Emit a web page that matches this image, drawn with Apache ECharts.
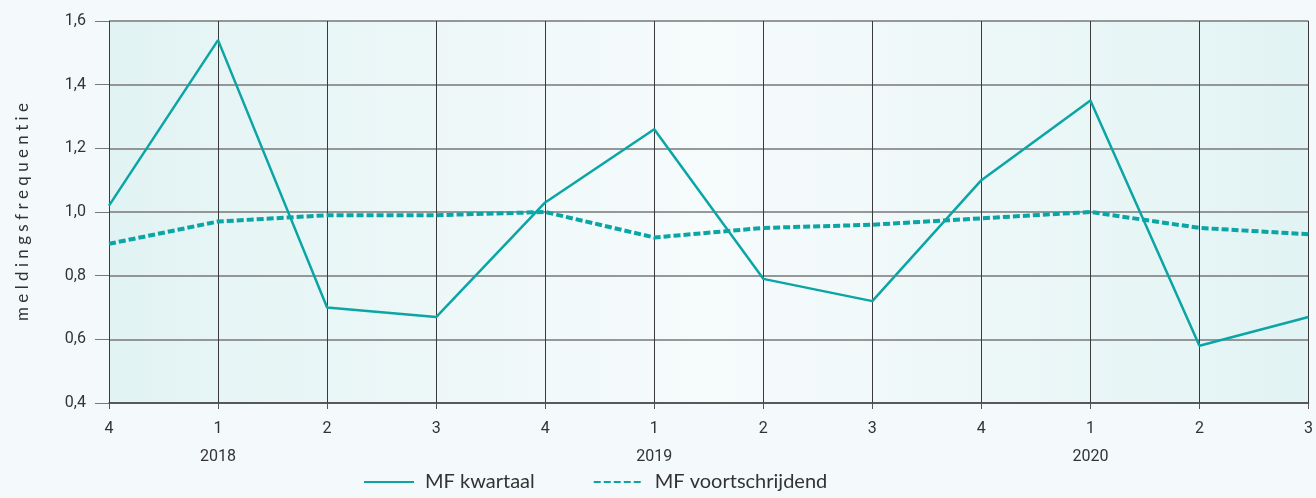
<!DOCTYPE html>
<html>
<head>
<meta charset="utf-8">
<script src="https://cdn.jsdelivr.net/npm/echarts@6/dist/echarts.min.js"></script>
<style>
  html, body { margin: 0; padding: 0; background: #f4fafb; }
  #chart { width: 1316px; height: 498px; }
</style>
</head>
<body>
<div id="chart"></div>
<script>
const quarters = ['4', '1', '2', '3', '4', '1', '2', '3', '4', '1', '2', '3']
const years = ['', '2018', '', '', '', '2019', '', '', '', '2020', '', '']
const mfKwartaal = [1.02, 1.54, 0.70, 0.67, 1.03, 1.26, 0.79, 0.72, 1.10, 1.35, 0.58, 0.67]
const mfVoortschrijdend = [0.90, 0.97, 0.99, 0.99, 1.00, 0.92, 0.95, 0.96, 0.98, 1.00, 0.95, 0.93]

const teal = '#0ba5a5'

const chart = echarts.init(document.getElementById('chart'))
chart.setOption({
    backgroundColor: '#f4fafb',
    grid: {
        left: 109, right: 5, top: 21, bottom: 95,
        show: true,
        borderWidth: 0,
        backgroundColor: new echarts.graphic.LinearGradient(0, 0, 1, 0, [
            { offset: 0, color: '#e2f3f3' },
            { offset: 0.5, color: '#f6fbfc' },
            { offset: 1, color: '#e2f3f3' }
        ])
    },
    legend: {
        bottom: 1,
        left: 358,
        itemWidth: 50,
        itemHeight: 10,
        itemGap: 58,
        itemStyle: { opacity: 0 },
        textStyle: { fontFamily: 'Lato', fontSize: 20, color: '#333', padding: [0, 0, 0, 6] },
        data: ['MF kwartaal', 'MF voortschrijdend']
    },
    xAxis: [{
        type: 'category',
        data: quarters,
        boundaryGap: false,
        axisLine: { lineStyle: { color: '#444', width: 1.5 } },
        axisTick: { length: 6, lineStyle: { color: '#555' } },
        axisLabel: { margin: 18, color: '#333', fontFamily: 'Roboto', fontSize: 16 },
        splitLine: { show: true, lineStyle: { color: '#3a3a3a', width: 1 } }
    }, {
        type: 'category',
        data: years,
        boundaryGap: false,
        position: 'bottom',
        axisLine: { show: false },
        axisTick: { show: false },
        axisLabel: { margin: 46, interval: 0, color: '#333', fontFamily: 'Roboto', fontSize: 16 },
        splitLine: { show: false }
    }],
    yAxis: {
        type: 'value',
        min: 0.4,
        max: 1.6,
        interval: 0.2,
        name: 'm e l d i n g s f r e q u e n t i e',
        nameLocation: 'middle',
        nameGap: 78,
        nameTextStyle: { fontFamily: 'Lato', fontSize: 17, color: '#333' },
        axisLine: { show: false },
        axisTick: { show: true, length: 14, lineStyle: { color: '#777' } },
        axisLabel: {
            margin: 23,
            color: '#333',
            fontFamily: 'Roboto',
            fontSize: 16,
            formatter: v => v.toFixed(1).replace('.', ',')
        },
        splitLine: { lineStyle: { color: '#777', width: 1.5 } }
    },
    series: [{
        name: 'MF kwartaal',
        type: 'line',
        data: mfKwartaal,
        symbol: 'none',
        lineStyle: { color: teal, width: 2.5 },
        itemStyle: { color: teal }
    }, {
        name: 'MF voortschrijdend',
        type: 'line',
        data: mfVoortschrijdend,
        symbol: 'none',
        lineStyle: { color: teal, width: 4, type: [7, 3] },
        itemStyle: { color: teal }
    }]
})
</script>
</body>
</html>
